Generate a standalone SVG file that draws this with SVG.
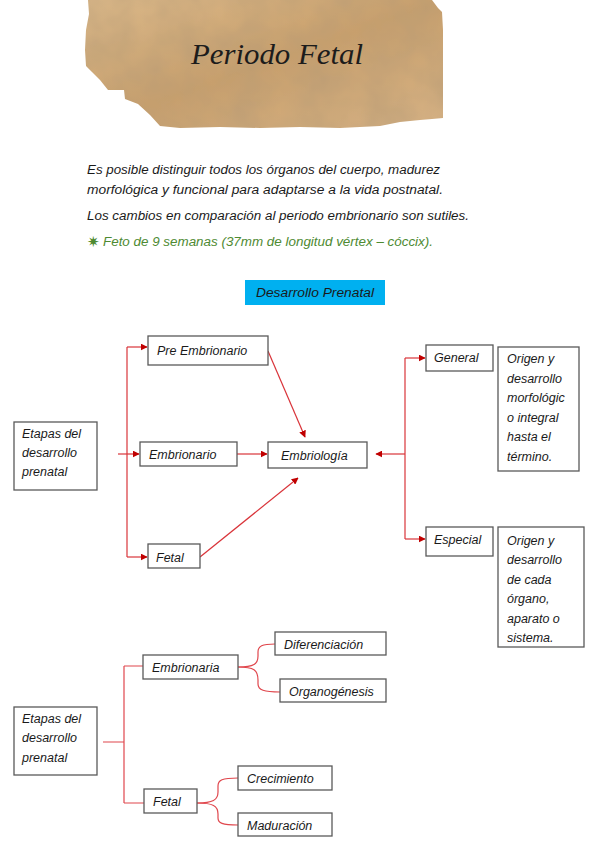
<svg xmlns="http://www.w3.org/2000/svg" width="599" height="848" viewBox="0 0 599 848">
<style>
.hw{font-family:"Liberation Sans","DejaVu Sans",sans-serif;font-style:italic;font-size:12.5px;fill:#1a1a1a}
.body{font-family:"Liberation Sans","DejaVu Sans",sans-serif;font-style:italic;font-size:12px;fill:#1a1a1a}
.box{fill:#fff;stroke:#595959;stroke-width:1.3}
.ln{fill:none;stroke:#d9343a;stroke-width:1.2}
.ln2{fill:none;stroke:#e0474d;stroke-width:1.2}
</style>
<defs>
<marker id="ah" viewBox="0 0 10 10" refX="9" refY="5" markerWidth="7" markerHeight="7" orient="auto" markerUnits="userSpaceOnUse">
<path d="M0,0 L10,5 L0,10 z" fill="#c00000"/>
</marker>
<linearGradient id="paper" x1="0" y1="0" x2="1" y2="1">
<stop offset="0" stop-color="#dcb98a"/>
<stop offset="0.5" stop-color="#c9a06c"/>
<stop offset="1" stop-color="#d8b385"/>
</linearGradient>
<filter id="tex" x="0" y="0" width="1" height="1">
<feTurbulence type="fractalNoise" baseFrequency="0.03" numOctaves="3" seed="4" result="n"/>
<feColorMatrix in="n" type="matrix" values="0 0 0 0 0.45  0 0 0 0 0.32  0 0 0 0 0.18  0 0 0 0.7 -0.1" result="c"/>
<feComposite in="c" in2="SourceGraphic" operator="atop"/>
</filter>
</defs>
<rect width="599" height="848" fill="#fff"/>
<g id="paper-title">
<path d="M88,0 L432,0 L438,8 L442,12 L443,30 L443,118 L432,119 L420,120 L400,122 L380,126 L340,128 L300,127 L260,128 L220,127 L180,128 L160,126 L150,115 L138,104 L125,99 L124,90 L108,90 L100,80 L92,72 L86,66 L85,50 L86,30 L89,14 Z" fill="url(#paper)" filter="url(#tex)"/>
<text x="277" y="64" text-anchor="middle" font-family="'Liberation Serif','DejaVu Serif',serif" font-style="italic" font-size="30" fill="#1c1c1c" textLength="172" lengthAdjust="spacingAndGlyphs">Periodo Fetal</text>
</g>
<g id="intro">
<text class="body" x="87" y="174" textLength="353" lengthAdjust="spacingAndGlyphs">Es posible distinguir todos los órganos del cuerpo, madurez</text>
<text class="body" x="87" y="194" textLength="356" lengthAdjust="spacingAndGlyphs">morfológica y  funcional para adaptarse a la vida postnatal.</text>
<text class="body" x="87" y="220" textLength="382" lengthAdjust="spacingAndGlyphs">Los cambios en comparación al periodo embrionario son sutiles.</text>
<text x="87" y="247" font-family="'DejaVu Sans',sans-serif" font-size="15" fill="#4e8a32">✷</text>
<text class="body" x="103" y="246" style="fill:#4e8a32" textLength="330" lengthAdjust="spacingAndGlyphs">Feto de 9 semanas (37mm de longitud vértex – cóccix).</text>
</g>
<g id="desarrollo-prenatal">
<rect x="245" y="280" width="140" height="25" fill="#00b0f0"/>
<text class="hw" x="315" y="297" text-anchor="middle" textLength="118" lengthAdjust="spacingAndGlyphs">Desarrollo Prenatal</text>
</g>
<g id="connectors">
<path class="ln" d="M118,454 L139,454" marker-end="url(#ah)"/>
<path class="ln" d="M127,347 L127,557"/>
<path class="ln" d="M127,347 L147,347" marker-end="url(#ah)"/>
<path class="ln" d="M127,557 L147,557" marker-end="url(#ah)"/>
<path class="ln" d="M237,454 L267,454" marker-end="url(#ah)"/>
<path class="ln" d="M268,351 L305,437" marker-end="url(#ah)"/>
<path class="ln" d="M200,557 L298,478" marker-end="url(#ah)"/>
<path class="ln" d="M405,454 L376,454" marker-end="url(#ah)"/>
<path class="ln" d="M405,358 L405,539"/>
<path class="ln" d="M405,358 L425,358" marker-end="url(#ah)"/>
<path class="ln" d="M405,539 L425,539" marker-end="url(#ah)"/>
<path class="ln2" d="M103,742 L124,742 M124,666 L124,803 M124,666 L143,666 M124,803 L144,803"/>
<path class="ln2" d="M238,667 C254,667 258,664 258,656 L258,652 C258,646 262,644 275,644"/>
<path class="ln2" d="M238,667 C254,667 258,670 258,680 L258,684 C258,690 264,692 280,692"/>
<path class="ln2" d="M197,803 C213,803 218,800 218,792 L218,786 C218,780 222,778 238,778"/>
<path class="ln2" d="M197,803 C213,803 218,806 218,814 L218,818 C218,823 222,825 238,825"/>
</g>
<g id="etapas-1">
<rect class="box" x="14" y="422" width="83" height="68"/>
<text class="hw" x="22" y="438">Etapas del</text>
<text class="hw" x="22" y="457">desarrollo</text>
<text class="hw" x="22" y="476">prenatal</text>
</g>
<g id="pre-embrionario">
<rect class="box" x="148" y="336" width="120" height="29"/>
<text class="hw" x="157" y="355">Pre Embrionario</text>
</g>
<g id="embrionario">
<rect class="box" x="140" y="442" width="97" height="24"/>
<text class="hw" x="149" y="459">Embrionario</text>
</g>
<g id="fetal-1">
<rect class="box" x="148" y="544" width="52" height="24"/>
<text class="hw" x="156" y="562">Fetal</text>
</g>
<g id="embriologia">
<rect class="box" x="268" y="442" width="99" height="26"/>
<text class="hw" x="281" y="460">Embriología</text>
</g>
<g id="general">
<rect class="box" x="426" y="345" width="67" height="26"/>
<text class="hw" x="434" y="362">General</text>
</g>
<g id="especial">
<rect class="box" x="426" y="527" width="67" height="29"/>
<text class="hw" x="434" y="544">Especial</text>
</g>
<g id="desc-general">
<rect class="box" x="498" y="347" width="81" height="124"/>
<text class="hw" x="507" y="363">Origen y</text>
<text class="hw" x="507" y="383">desarrollo</text>
<text class="hw" x="507" y="402">morfológic</text>
<text class="hw" x="507" y="422">o integral</text>
<text class="hw" x="507" y="441">hasta el</text>
<text class="hw" x="507" y="461">término.</text>
</g>
<g id="desc-especial">
<rect class="box" x="498" y="527" width="86" height="120"/>
<text class="hw" x="507" y="545">Origen y</text>
<text class="hw" x="507" y="564">desarrollo</text>
<text class="hw" x="507" y="584">de cada</text>
<text class="hw" x="507" y="603">órgano,</text>
<text class="hw" x="507" y="623">aparato o</text>
<text class="hw" x="507" y="642">sistema.</text>
</g>
<g id="etapas-2">
<rect class="box" x="14" y="707" width="83" height="68"/>
<text class="hw" x="22" y="723">Etapas del</text>
<text class="hw" x="22" y="742">desarrollo</text>
<text class="hw" x="22" y="762">prenatal</text>
</g>
<g id="embrionaria">
<rect class="box" x="143" y="655" width="95" height="24"/>
<text class="hw" x="152" y="672">Embrionaria</text>
</g>
<g id="fetal-2">
<rect class="box" x="144" y="789" width="53" height="24"/>
<text class="hw" x="153" y="806">Fetal</text>
</g>
<g id="diferenciacion">
<rect class="box" x="275" y="632" width="111" height="23"/>
<text class="hw" x="284" y="649">Diferenciación</text>
</g>
<g id="organogenesis">
<rect class="box" x="280" y="679" width="106" height="23"/>
<text class="hw" x="289" y="696">Organogénesis</text>
</g>
<g id="crecimiento">
<rect class="box" x="238" y="766" width="94" height="24"/>
<text class="hw" x="247" y="783">Crecimiento</text>
</g>
<g id="maduracion">
<rect class="box" x="238" y="813" width="94" height="23"/>
<text class="hw" x="247" y="830">Maduración</text>
</g>
</svg>
